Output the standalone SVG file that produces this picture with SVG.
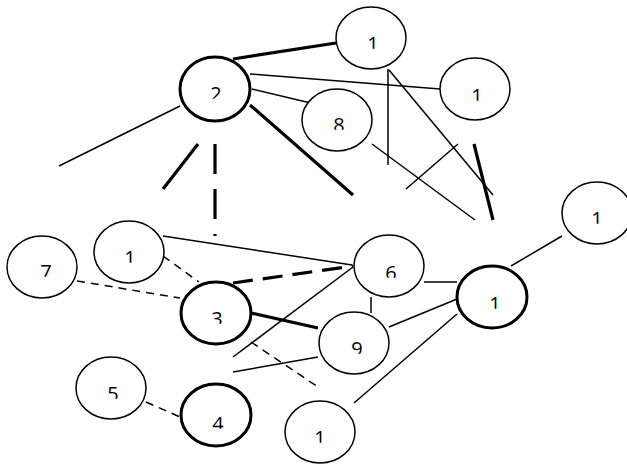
<svg xmlns="http://www.w3.org/2000/svg" width="627" height="465" viewBox="0 0 627 465">
<style>
.n{fill:#fff;stroke:#000;stroke-width:1.5}
.nb{fill:#fff;stroke:#000;stroke-width:3}
.t{font-family:"Open Sans","Liberation Sans",sans-serif;font-size:20px;fill:#000;text-anchor:middle}
.e{stroke:#000;stroke-width:1.5;fill:none}
.eb{stroke:#000;stroke-width:3.2;fill:none}
.d{stroke-dasharray:8 6}
.db{stroke-dasharray:20 10}
.dv{stroke-dasharray:30 15}
</style>
<defs>
<clipPath id="cut" clipPathUnits="objectBoundingBox"><rect x="-0.5" y="0" width="2" height="0.69"/></clipPath>
</defs>
<rect width="627" height="465" fill="#fff"/>
<g id="edges">
<line class="eb" x1="233" y1="59" x2="336" y2="43"/>
<line class="e" x1="250" y1="74" x2="440" y2="89"/>
<line class="e" x1="252" y1="89" x2="319" y2="105"/>
<line class="eb" x1="250" y1="105" x2="353" y2="195"/>
<line class="e" x1="180" y1="106" x2="59" y2="166"/>
<line class="eb" x1="198" y1="144" x2="163" y2="189"/>
<line class="eb dv" x1="215" y1="144" x2="215" y2="236"/>
<line class="e" x1="388" y1="69" x2="388" y2="165"/>
<line class="e" x1="389" y1="70" x2="493" y2="195"/>
<line class="e" x1="372" y1="144" x2="475" y2="220"/>
<line class="e" x1="406" y1="189" x2="458" y2="144"/>
<line class="eb" x1="474" y1="144" x2="493" y2="220"/>
<line class="e" x1="511" y1="266" x2="562" y2="236"/>
<line class="e" x1="163" y1="236" x2="352" y2="265"/>
<line class="e d" x1="163" y1="256" x2="199" y2="282"/>
<line class="e d" x1="77" y1="281" x2="180" y2="298"/>
<line class="eb db" x1="233" y1="283" x2="353" y2="266"/>
<line class="eb" x1="251" y1="313" x2="318" y2="328"/>
<line class="e" x1="233" y1="357" x2="353" y2="267"/>
<line class="e" x1="233" y1="372" x2="318" y2="357"/>
<line class="e d" x1="251" y1="342" x2="318" y2="387"/>
<line class="e d" x1="146" y1="402" x2="180" y2="417"/>
<line class="e" x1="424" y1="282" x2="457" y2="282"/>
<line class="e" x1="371" y1="297" x2="371" y2="313"/>
<line class="e" x1="389" y1="327" x2="457" y2="299"/>
<line class="e" x1="354" y1="403" x2="457" y2="314"/>
</g>
<g id="n2"><ellipse class="nb" cx="215" cy="89" rx="35" ry="32"/><text class="t" x="216" y="101" clip-path="url(#cut)">2</text></g>
<g id="n1a"><ellipse class="n" cx="371" cy="38" rx="35" ry="31"/><text class="t" x="373" y="51" clip-path="url(#cut)">1</text></g>
<g id="n1b"><ellipse class="n" cx="475" cy="89" rx="35" ry="31"/><text class="t" x="477" y="103" clip-path="url(#cut)">1</text></g>
<g id="n8"><ellipse class="n" cx="337" cy="120" rx="35" ry="31"/><text class="t" x="339" y="132" clip-path="url(#cut)">8</text></g>
<g id="n1c"><ellipse class="n" cx="597" cy="213" rx="35" ry="31"/><text class="t" x="597" y="226" clip-path="url(#cut)">1</text></g>
<g id="n7"><ellipse class="n" cx="42" cy="267" rx="35" ry="31"/><text class="t" x="46" y="279" clip-path="url(#cut)">7</text></g>
<g id="n1d"><ellipse class="n" cx="129" cy="252" rx="35" ry="31"/><text class="t" x="130" y="265" clip-path="url(#cut)">1</text></g>
<g id="n3"><ellipse class="nb" cx="216" cy="313" rx="35" ry="31"/><text class="t" x="217" y="326" clip-path="url(#cut)">3</text></g>
<g id="n5"><ellipse class="n" cx="111" cy="388" rx="35" ry="31"/><text class="t" x="113" y="401" clip-path="url(#cut)">5</text></g>
<g id="n4"><ellipse class="nb" cx="216" cy="415" rx="35" ry="31"/><text class="t" x="218" y="431" clip-path="url(#cut)">4</text></g>
<g id="n1e"><ellipse class="n" cx="320" cy="432" rx="35" ry="31"/><text class="t" x="320" y="445" clip-path="url(#cut)">1</text></g>
<g id="n6"><ellipse class="n" cx="389" cy="266" rx="35" ry="31"/><text class="t" x="391" y="280" clip-path="url(#cut)">6</text></g>
<g id="n9"><ellipse class="n" cx="354" cy="343" rx="35" ry="31"/><text class="t" x="357" y="356" clip-path="url(#cut)">9</text></g>
<g id="n1f"><ellipse class="nb" cx="492" cy="297" rx="35" ry="31"/><text class="t" x="495" y="311" clip-path="url(#cut)">1</text></g>
</svg>
